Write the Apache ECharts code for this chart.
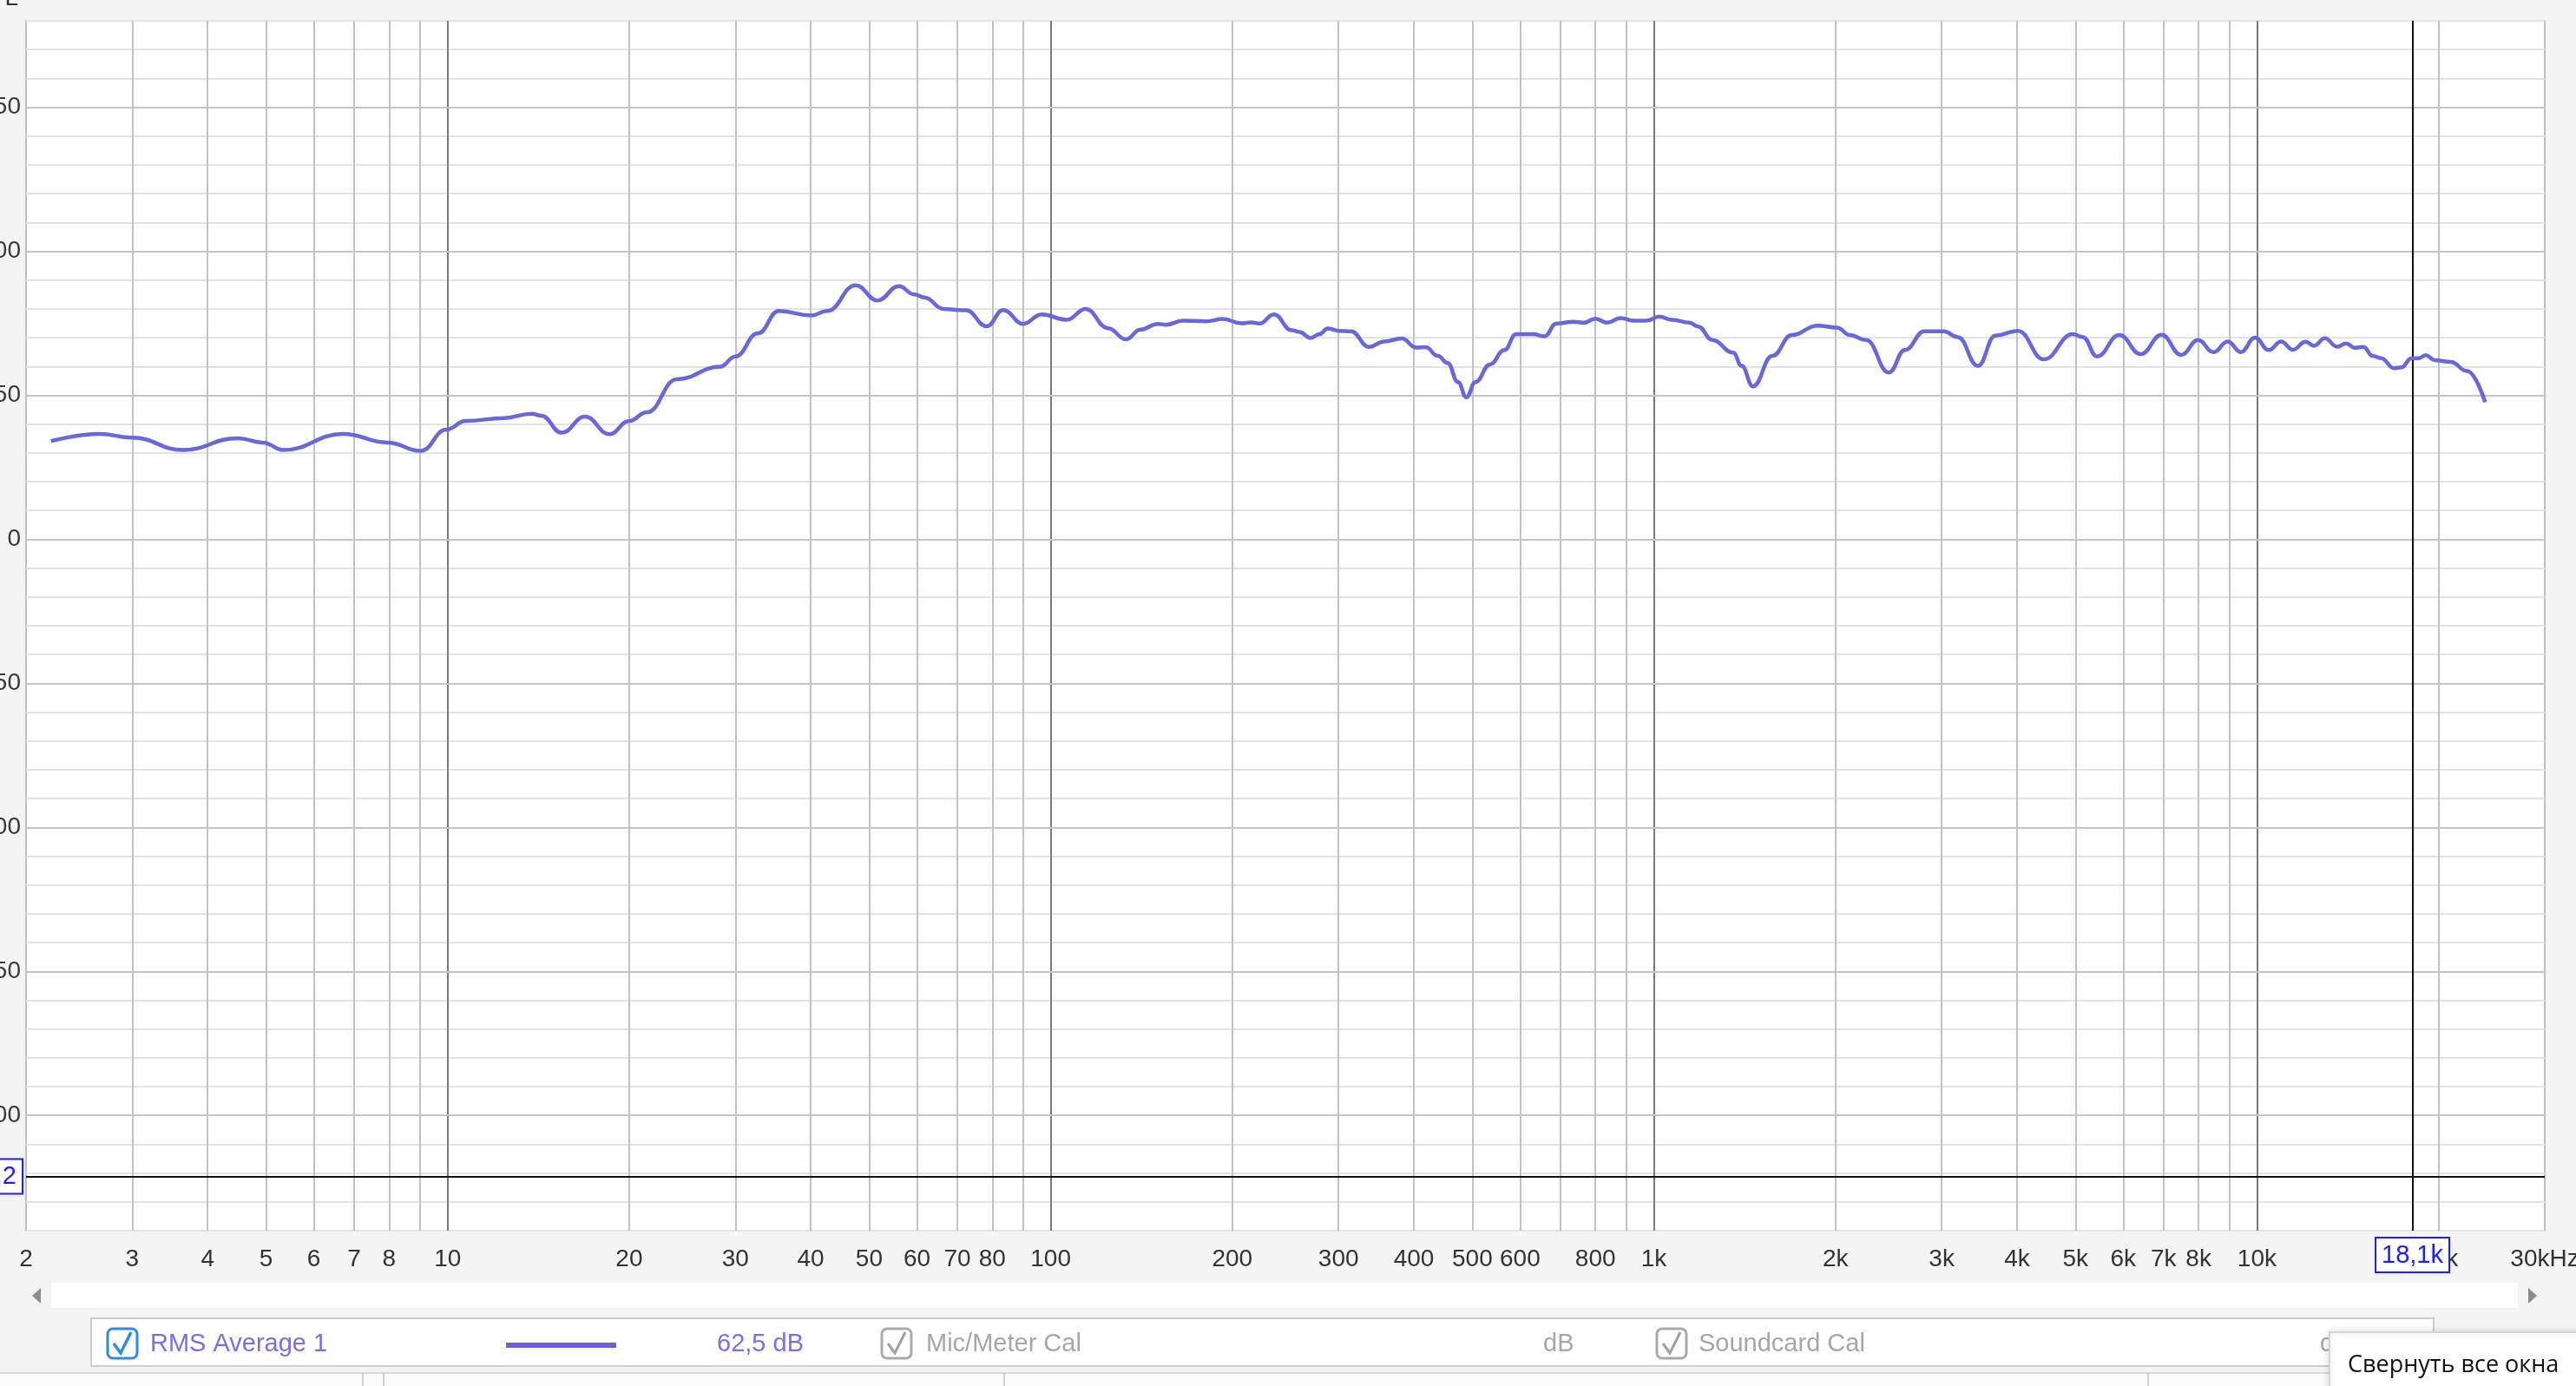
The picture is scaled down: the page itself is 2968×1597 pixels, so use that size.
<!DOCTYPE html>
<html>
<head>
<meta charset="utf-8">
<script src="https://cdn.jsdelivr.net/npm/echarts@6/dist/echarts.min.js"></script>
<style>
html,body{margin:0;padding:0;background:#f4f4f4;}
#c{width:2968px;height:1597px;}
</style>
</head>
<body>
<div id="c"></div>
<script>
// ---- data (RMS Average 1, SPL in dB vs frequency in Hz) ----
const freqHz = [2.2, 2.65, 3.0, 3.64, 4.49, 4.94, 5.34, 6.71, 7.95, 9.03,
  9.95, 10.72, 12.4, 13.8, 14.3, 15.45, 16.9, 18.55, 20.0, 21.4,
  24.0, 28.3, 30.0, 32.7, 35.4, 40.1, 42.6, 47.5, 51.6, 56.0,
  59.4, 61.7, 66.4, 70.5, 72.4, 78.3, 83.4, 90.0, 96.6, 106.3,
  114.2, 124.5, 133.3, 140.8, 150.5, 155.2, 165.5, 181.2, 192.8, 207,
  215, 222, 234.5, 250.8, 258.5, 269.5, 278.8, 288, 301, 314.6,
  337, 357, 382, 403.4, 418.5, 438.3, 455, 473.5, 488.7, 506,
  535, 565, 591, 631, 659, 689, 736, 765, 800, 837,
  880, 929, 971, 1021, 1073, 1146, 1184, 1250, 1354, 1398,
  1460, 1572, 1693, 1868, 2012, 2114, 2249, 2453, 2607, 2808,
  3023, 3192, 3446, 3682, 4014, 4431, 4950, 5146, 5428, 5912,
  6418, 6948, 7485, 7985, 8469, 8948, 9400, 9929, 10460, 10965,
  11465, 12040, 12430, 12955, 13580, 14060, 14510, 15020, 15540, 16060,
  16880, 17350, 18040, 18550, 19060, 19700, 20950, 22300, 23900];
const splDb = [34.1, 36.6, 35.3, 31.0, 35.1, 33.6, 31.0, 36.6, 33.6, 30.7,
  38.1, 41.1, 42.1, 43.6, 42.9, 37.0, 42.6, 36.5, 41.1, 44.1,
  55.6, 59.9, 63.5, 71.5, 79.3, 77.7, 79.3, 88.2, 82.9, 87.9,
  85.0, 84.0, 80.0, 79.6, 79.5, 74.0, 79.6, 74.8, 78.1, 76.2,
  80.0, 73.3, 69.4, 72.8, 74.8, 74.5, 75.9, 75.7, 76.5, 75.0,
  75.3, 74.9, 78.1, 72.6, 72.0, 69.9, 71.2, 73.2, 72.4, 72.2,
  66.8, 68.7, 69.7, 66.6, 66.7, 63.7, 61.2, 54.6, 49.3, 54.6,
  60.7, 65.7, 71.2, 71.2, 70.5, 74.9, 75.5, 75.2, 76.6, 75.2,
  76.8, 75.9, 75.9, 77.3, 76.2, 75.2, 73.9, 69.2, 64.8, 60.2,
  53.1, 63.7, 70.9, 74.2, 73.5, 70.9, 69.2, 57.9, 65.7, 72.2,
  72.2, 70.2, 60.2, 70.7, 72.4, 62.5, 71.2, 70.2, 63.5, 70.9,
  64.3, 71.0, 64.0, 69.2, 65.0, 68.7, 65.0, 70.0, 65.7, 68.7,
  65.8, 68.6, 67.2, 69.8, 66.9, 68.0, 66.5, 66.8, 63.7, 62.9,
  59.4, 59.7, 62.9, 62.9, 63.9, 62.2, 61.6, 58.4, 47.6];

// axis ticks / grid values
const xTickHz = [2,3,4,5,6,7,8,10,20,30,40,50,60,70,80,100,200,300,400,500,600,800,
  1000,2000,3000,4000,5000,6000,7000,8000,10000,20000,30000];
const xTickText = ['2','3','4','5','6','7','8','10','20','30','40','50','60','70','80','100',
  '200','300','400','500','600','800','1k','2k','3k','4k','5k','6k','7k','8k','10k','20k','30kHz'];
const gridMinorHz = [3,4,5,6,7,8,9,20,30,40,50,60,70,80,90,200,300,400,500,600,700,800,900,
  2000,3000,4000,5000,6000,7000,8000,9000,20000];
const gridDecadeHz = [10,100,1000,10000];
const yMajorDb = [150,100,50,0,-50,-100,-150,-200];
const cursorHz = 18100, cursorHzText = '18,1k';
const cursorDb = -221.2, cursorDbText = '-221,2';
const seriesName = 'RMS Average 1', seriesLevelText = '62,5 dB';

const F = "'Liberation Sans',Arial,sans-serif";
const LINE = '#6868dc';

const chart = echarts.init(document.getElementById('c'), null, {renderer:'canvas'});

const vGrid = gridMinorHz.map(v => ({xAxis: v, lineStyle:{color:'#c2c2c2', width:2, type:'solid'}}))
  .concat(gridDecadeHz.map(v => ({xAxis: v, lineStyle:{color:'#7a7a7a', width:2, type:'solid'}})))
  .concat(yMajorDb.map(v => ({yAxis: v, lineStyle:{color:'#c4c4c4', width:2, type:'solid'}})));

const cursorLabel = {
  show:true, position:'start', color:'#1d1dff', fontSize:29, fontFamily:F,
  backgroundColor:'#fff', borderColor:'#1d1dff', borderWidth:2, padding:[5,6,4,6]
};

const option = {
  backgroundColor:'#f4f4f4',
  animation:false,
  textStyle:{fontFamily:F},
  grid:{left:30, top:24, width:2902, height:1394, show:true, backgroundColor:'#fff',
        borderColor:'#bfbfbf', borderWidth:2, containLabel:false, outerBoundsMode:'none'},
  xAxis:{
    type:'log', logBase:10, min:2, max:30000,
    axisLine:{show:false}, axisTick:{show:false}, splitLine:{show:false},
    axisLabel:{
      customValues:xTickHz, interval:0, hideOverlap:false,
      fontSize:28, fontFamily:F, color:'#333', margin:19,
      formatter:v => { const i = xTickHz.findIndex(t => Math.abs(t - v) / t < 1e-6); return i >= 0 ? xTickText[i] : ''; }
    }
  },
  yAxis:{
    type:'value', min:-240, max:180, interval:10,
    axisLine:{show:false}, axisTick:{show:false},
    splitLine:{show:true, lineStyle:{color:'#e4e4e4', width:2}},
    axisLabel:{interval:0, fontSize:28, fontFamily:F, color:'#3a3a3a', margin:6,
      formatter:v => yMajorDb.indexOf(v) >= 0 ? String(v) : ''}
  },
  series:[
    { type:'line', name:'grid', data:[], silent:true, z:1,
      markLine:{silent:true, z:1, symbol:['none','none'], label:{show:false}, animation:false, data:vGrid} },
    { type:'line', name:'cursor', data:[], silent:true, z:2,
      markLine:{silent:true, z:2, symbol:['none','none'], animation:false,
        data:[
          {xAxis:cursorHz, lineStyle:{color:'#111', width:2, type:'solid'},
           label:Object.assign({}, cursorLabel, {formatter:cursorHzText, distance:9})},
          {yAxis:cursorDb, lineStyle:{color:'#111', width:2, type:'solid'},
           label:Object.assign({}, cursorLabel, {formatter:cursorDbText, distance:5})}
        ]} },
    { type:'line', name:seriesName, z:3, silent:true,
      data:freqHz.map((f, i) => [f, splDb[i]]),
      showSymbol:false, smooth:0.45, smoothMonotone:'x',
      lineStyle:{color:LINE, width:4.5} }
  ],
  graphic:[
    {type:'text', x:21, y:12, silent:true, style:{text:'SPL', fontSize:28, fontFamily:F, fill:'#333', align:'right', verticalAlign:'bottom'}},
    // scrollbar
    {type:'rect', silent:true, shape:{x:59, y:1478, width:2842, height:29}, style:{fill:'#fff'}},
    {type:'polygon', silent:true, shape:{points:[[37,1493],[47,1484],[47,1502]]}, style:{fill:'#8c8c8c'}},
    {type:'polygon', silent:true, shape:{points:[[2923,1493],[2913,1484],[2913,1502]]}, style:{fill:'#8c8c8c'}},
    // legend panel
    {type:'rect', silent:true, shape:{x:105, y:1519, width:2699, height:55}, style:{fill:'#fff', stroke:'#cdcdcd', lineWidth:2}},
    {type:'rect', silent:true, shape:{x:124, y:1531, width:34, height:34, r:6}, style:{fill:'#fff', stroke:'#2e8ae6', lineWidth:3}},
    {type:'polyline', silent:true, shape:{points:[[131,1548],[139,1559],[151,1535]]}, style:{stroke:'#2e8ae6', lineWidth:3.5, fill:null}},
    {type:'text', silent:true, x:173, y:1549, style:{text:seriesName, fontSize:29, fontFamily:F, fill:'#7b70e0', verticalAlign:'middle'}},
    {type:'line', silent:true, shape:{x1:583, y1:1550, x2:710, y2:1550}, style:{stroke:'#6a62d8', lineWidth:6}},
    {type:'text', silent:true, x:826, y:1549, style:{text:seriesLevelText, fontSize:29, fontFamily:F, fill:'#7b70e0', verticalAlign:'middle'}},
    {type:'rect', silent:true, shape:{x:1016, y:1531, width:34, height:34, r:6}, style:{fill:'#fff', stroke:'#a9a9a9', lineWidth:3}},
    {type:'polyline', silent:true, shape:{points:[[1023,1548],[1031,1559],[1043,1535]]}, style:{stroke:'#a0a0a0', lineWidth:3, fill:null}},
    {type:'text', silent:true, x:1067, y:1549, style:{text:'Mic/Meter Cal', fontSize:29, fontFamily:F, fill:'#a6a6a6', verticalAlign:'middle'}},
    {type:'text', silent:true, x:1778, y:1549, style:{text:'dB', fontSize:29, fontFamily:F, fill:'#a6a6a6', verticalAlign:'middle'}},
    {type:'rect', silent:true, shape:{x:1909, y:1531, width:34, height:34, r:6}, style:{fill:'#fff', stroke:'#a9a9a9', lineWidth:3}},
    {type:'polyline', silent:true, shape:{points:[[1916,1548],[1924,1559],[1936,1535]]}, style:{stroke:'#a0a0a0', lineWidth:3, fill:null}},
    {type:'text', silent:true, x:1957, y:1549, style:{text:'Soundcard Cal', fontSize:29, fontFamily:F, fill:'#a6a6a6', verticalAlign:'middle'}},
    {type:'text', silent:true, x:2673, y:1549, style:{text:'dB', fontSize:29, fontFamily:F, fill:'#a6a6a6', verticalAlign:'middle'}},
    // bottom strip
    {type:'rect', silent:true, shape:{x:0, y:1582, width:2968, height:15}, style:{fill:'#fbfbfb'}},
    {type:'line', silent:true, shape:{x1:0, y1:1582, x2:2968, y2:1582}, style:{stroke:'#d9d9d9', lineWidth:2}},
    {type:'line', silent:true, shape:{x1:418, y1:1582, x2:418, y2:1597}, style:{stroke:'#d0d0d0', lineWidth:2}},
    {type:'line', silent:true, shape:{x1:442, y1:1582, x2:442, y2:1597}, style:{stroke:'#d0d0d0', lineWidth:2}},
    {type:'line', silent:true, shape:{x1:1157, y1:1582, x2:1157, y2:1597}, style:{stroke:'#d0d0d0', lineWidth:2}},
    {type:'line', silent:true, shape:{x1:2475, y1:1582, x2:2475, y2:1597}, style:{stroke:'#d0d0d0', lineWidth:2}},
    // windows tooltip
    {type:'rect', silent:true, shape:{x:2684, y:1535, width:300, height:80}, style:{fill:'#fff', stroke:'#d4d4d4', lineWidth:2, shadowBlur:8, shadowColor:'rgba(0,0,0,0.15)'}},
    {type:'text', silent:true, x:2705, y:1573, style:{text:'Свернуть все окна', fontSize:27, fontFamily:"'Open Sans','Noto Sans',sans-serif", fill:'#111', verticalAlign:'middle'}}
  ]
};
chart.setOption(option);
</script>
</body>
</html>
